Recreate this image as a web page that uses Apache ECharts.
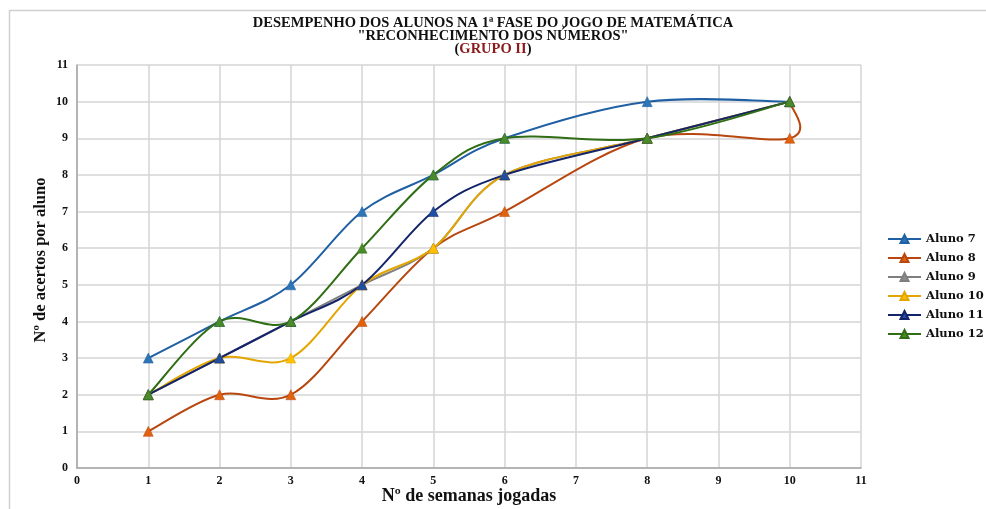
<!DOCTYPE html>
<html><head><meta charset="utf-8">
<script src="https://cdn.jsdelivr.net/npm/echarts@6/dist/echarts.min.js"></script>
<style>html,body{margin:0;padding:0;background:#fff}#c{width:986px;height:509px}</style>
</head><body><div id="c"></div>
<script>
const titleLines = ['DESEMPENHO DOS ALUNOS NA 1ª FASE DO JOGO DE MATEMÁTICA', '"RECONHECIMENTO DOS NÚMEROS"', 'GRUPO II'];
const xName = 'Nº de semanas jogadas';
const yName = 'Nº de acertos por aluno';
const seriesNames = ['Aluno 7','Aluno 8','Aluno 9','Aluno 10','Aluno 11','Aluno 12'];
const aluno7  = [[1,3],[2,4],[3,5],[4,7],[5,8],[6,9],[8,10],[10,10]];
const aluno8  = [[1,1],[2,2],[3,2],[4,4],[5,6],[6,7],[8,9],[10,9],[10,10]];
const aluno9  = [[1,2],[2,3],[3,4],[4,5],[5,6],[6,8],[8,9],[10,10]];
const aluno10 = [[1,2],[2,3],[3,3],[4,5],[5,6],[6,8],[8,9],[10,10]];
const aluno11 = [[1,2],[2,3],[3,4],[4,5],[5,7],[6,8],[8,9],[10,10]];
const aluno12 = [[1,2],[2,4],[3,4],[4,6],[5,8],[6,9],[8,9],[10,10]];
const allData = [aluno7, aluno8, aluno9, aluno10, aluno11, aluno12];
const lineColors   = ['#1F5FA3','#B8470F','#7F7F7F','#E3A600','#13246A','#2F6E15'];
const markerColors = ['#2E75B6','#E0620E','#8C8C8C','#FFC000','#1F4FA3','#4A8A2A'];

const serif = 'Liberation Serif';

// smoothed (Catmull-Rom style) curve segments, positioned through the axes via api.coord
function curveSeries(i){
  const arr = allData[i];
  return {
    name:'curve'+i, type:'custom', data:arr, encode:{x:0,y:1}, z:2, silent:true,
    renderItem:function(params, api){
      const k = params.dataIndex;
      if (k === 0) return null;
      const pts = arr.map(p => api.coord(p));
      const P0 = pts[k-2] || pts[k-1], P1 = pts[k-1], P2 = pts[k], P3 = pts[k+1] || pts[k];
      return {
        type:'bezierCurve',
        shape:{
          x1:P1[0], y1:P1[1], x2:P2[0], y2:P2[1],
          cpx1:P1[0]+(P2[0]-P0[0])/6, cpy1:P1[1]+(P2[1]-P0[1])/6,
          cpx2:P2[0]-(P3[0]-P1[0])/6, cpy2:P2[1]-(P3[1]-P1[1])/6
        },
        style:{stroke:lineColors[i], lineWidth:2, fill:null}
      };
    }
  };
}

const chart = echarts.init(document.getElementById('c'));
chart.setOption({
  animation:false,
  graphic:[{type:'rect',left:7,top:8,shape:{width:990,height:520},style:{fill:'none',stroke:'#D0D0D0',lineWidth:1.5},silent:true}],
  title:{
    text:'{a|'+titleLines[0]+'}\n{a|'+titleLines[1]+'}\n{a|(}{r|'+titleLines[2]+'}{a|)}',
    left:'center', top:12, itemGap:0,
    textStyle:{rich:{
      a:{fontFamily:serif,fontWeight:'bold',fontSize:14.5,color:'#111',lineHeight:13},
      r:{fontFamily:serif,fontWeight:'bold',fontSize:14.5,color:'#8B1A1A',lineHeight:13}
    }}
  },
  legend:{
    orient:'vertical', left:887, top:232, padding:0, itemWidth:33, itemHeight:10, itemGap:5,
    textStyle:{fontFamily:'DejaVu Serif',fontWeight:'bold',fontSize:11.5,color:'#111',lineHeight:14},
    data:seriesNames.map(n=>({name:n, lineStyle:{opacity:1}}))
  },
  grid:{left:77,right:125,top:65,bottom:41,outerBoundsMode:'none',containLabel:false},
  xAxis:{
    type:'value', min:0, max:11, interval:1,
    name:xName, nameLocation:'middle', nameGap:19, nameMoveOverlap:false,
    nameTextStyle:{fontFamily:serif,fontWeight:'bold',fontSize:18,color:'#111'},
    axisLine:{show:true,lineStyle:{color:'#A6A6A6',width:1.5}},
    axisTick:{show:false},
    axisLabel:{fontFamily:serif,fontWeight:'bold',fontSize:12,color:'#111',margin:7},
    splitLine:{show:true,lineStyle:{color:'#D4D4D4',width:1.5}}
  },
  yAxis:{
    type:'value', min:0, max:11, interval:1,
    name:yName, nameLocation:'middle', nameGap:28, nameMoveOverlap:false,
    nameTextStyle:{fontFamily:serif,fontWeight:'bold',fontSize:16.5,color:'#111',padding:[0,0,0,13]},
    axisLine:{show:true,lineStyle:{color:'#A6A6A6',width:1.5}},
    axisTick:{show:false},
    axisLabel:{fontFamily:serif,fontWeight:'bold',fontSize:12,color:'#111',margin:9},
    splitLine:{show:true,lineStyle:{color:'#D4D4D4',width:1.5}}
  },
  series: seriesNames.map((n,i)=>curveSeries(i)).concat(seriesNames.map((n,i)=>({
    name:n, type:'line', data:allData[i], z:3,
    symbol:'triangle', symbolSize:10, showSymbol:true,
    lineStyle:{color:lineColors[i],width:2,opacity:0},
    itemStyle:{color:markerColors[i],borderColor:lineColors[i],borderWidth:0.5}
  })))
});
</script></body></html>
